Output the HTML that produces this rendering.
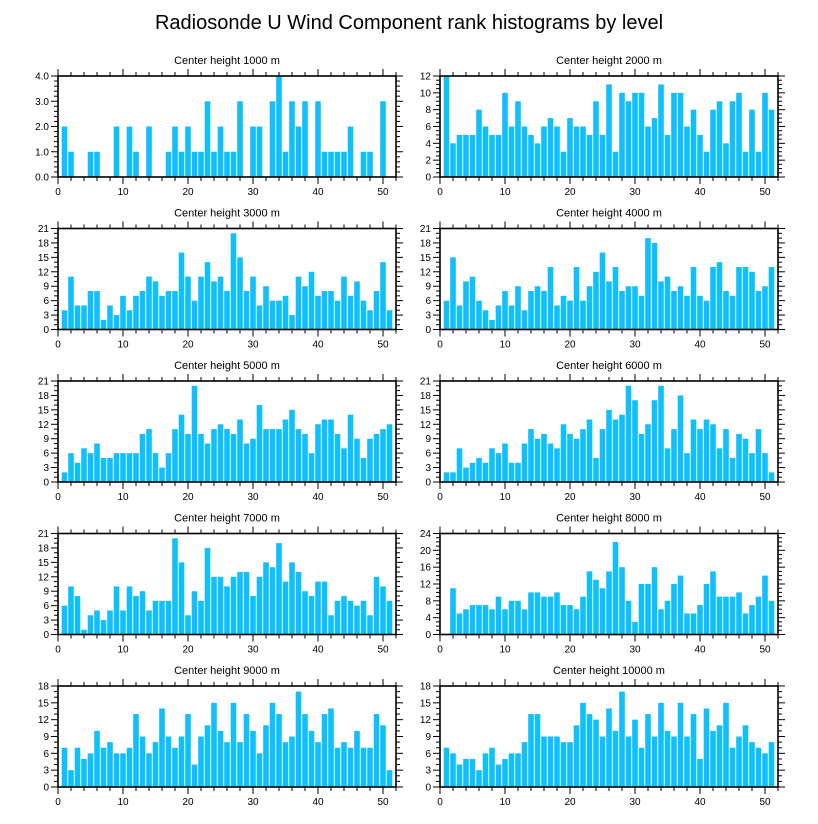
<!DOCTYPE html>
<html><head><meta charset="utf-8">
<style>
html,body{margin:0;padding:0;background:#fff;}
svg{display:block;font-family:"Liberation Sans",Arial,sans-serif;}
</style></head>
<body>
<svg id="chart" width="818" height="824" viewBox="0 0 818 824" xmlns="http://www.w3.org/2000/svg">
<rect width="818" height="824" fill="#fff"/>
<text x="409" y="29" font-size="20" text-anchor="middle" fill="#000">Radiosonde U Wind Component rank histograms by level</text>
</svg>
<script>
// Panel titles
const panelTitles = ["Center height 1000 m","Center height 2000 m","Center height 3000 m","Center height 4000 m","Center height 5000 m","Center height 6000 m","Center height 7000 m","Center height 8000 m","Center height 9000 m","Center height 10000 m"];
// Ranks (x categories) 1..51
const ranks = [1,2,3,4,5,6,7,8,9,10,11,12,13,14,15,16,17,18,19,20,21,22,23,24,25,26,27,28,29,30,31,32,33,34,35,36,37,38,39,40,41,42,43,44,45,46,47,48,49,50,51];
const xTickLabels = [0,10,20,30,40,50];
// Series values per level
const h1000 = [2,1,0,0,1,1,0,0,2,0,2,1,0,2,0,0,1,2,1,2,1,1,3,1,2,1,1,3,0,2,2,0,3,4,1,3,2,3,0,3,1,1,1,1,2,0,1,1,0,3,0];
const h2000 = [12,4,5,5,5,8,6,5,5,10,6,9,6,5,4,6,7,6,3,7,6,6,5,9,5,11,3,10,9,10,10,6,7,11,5,10,10,6,8,5,3,8,9,4,9,10,3,8,3,10,8];
const h3000 = [4,11,5,5,8,8,2,5,3,7,4,7,8,11,10,7,8,8,16,11,6,11,14,10,11,8,20,15,8,11,5,9,6,6,7,3,11,9,12,7,8,8,6,11,7,10,6,4,8,14,4];
const h4000 = [6,15,5,10,11,6,4,2,5,8,5,9,4,8,9,8,13,5,7,6,13,6,9,12,16,10,13,8,9,9,7,19,18,10,11,8,9,7,13,7,6,13,14,8,7,13,13,12,8,9,13];
const h5000 = [2,6,4,7,6,8,5,5,6,6,6,6,10,11,6,3,6,11,14,10,20,10,8,11,12,11,10,13,8,9,16,11,11,11,13,15,11,10,6,12,13,13,10,7,14,9,5,9,10,11,12];
const h6000 = [2,2,7,3,4,5,4,7,6,8,4,4,8,11,9,10,8,7,12,10,9,11,13,5,11,15,13,14,20,17,10,12,17,20,7,11,18,6,13,11,13,12,7,11,5,10,9,6,11,6,2];
const h7000 = [6,10,8,1,4,5,3,5,10,5,10,8,9,5,7,7,7,20,15,4,9,7,18,12,12,10,12,13,13,8,12,15,14,19,11,15,13,9,8,11,11,4,7,8,7,6,7,4,12,10,7];
const h8000 = [0,11,5,6,7,7,7,6,9,6,8,8,6,10,10,9,9,10,7,7,6,9,15,13,11,15,22,16,8,3,12,12,16,6,8,12,14,5,5,7,12,15,9,9,9,10,5,7,9,14,8];
const h9000 = [7,3,7,5,6,10,7,8,6,6,7,13,9,6,8,14,9,7,9,13,4,9,11,15,10,8,15,8,13,10,6,11,15,13,8,9,17,13,10,8,13,14,7,8,7,10,7,7,13,11,3];
const h10000 = [7,6,4,5,5,3,6,7,4,5,6,6,8,13,13,9,9,9,8,8,11,15,13,12,9,14,10,17,9,12,7,13,9,15,10,9,15,9,13,5,14,10,11,15,7,9,11,8,7,6,8];
// Y axis ranges / ticks
const yMax = [4,12,21,21,21,21,21,24,18,18];
const yMajor = [1,2,3,3,3,3,3,4,3,3];
const yMinor = [0.2,0.5,1,1,1,1,1,1,1,1];
const yDecimals = [1,0,0,0,0,0,0,0,0,0];

const series = [h1000,h2000,h3000,h4000,h5000,h6000,h7000,h8000,h9000,h10000];
const NS = "http://www.w3.org/2000/svg";
const svg = document.getElementById("chart");
const colLeft = [58, 440];
const rowTop = [76, 228.5, 381, 533.5, 686];
const PW = 338, PH = 101, XMAX = 52;

function mk(tag, attrs, parent){
  const e = document.createElementNS(NS, tag);
  for (const k in attrs) e.setAttribute(k, attrs[k]);
  (parent||svg).appendChild(e);
  return e;
}

series.forEach((vals, p) => {
  const x0 = colLeft[p % 2], y0 = rowTop[Math.floor(p / 2)];
  const xs = v => x0 + v / XMAX * PW;
  const ys = v => y0 + PH - v / yMax[p] * PH;
  const g = mk("g", {});
  
  

  const t = mk("text", {x: x0 + PW/2, y: y0 - 12, "font-size": 11, "text-anchor": "middle", fill: "#000"}, g);
  t.textContent = panelTitles[p];
  
  

  const bw = PW / XMAX * 0.86;
  vals.forEach((v, i) => {
    if (v <= 0) return;
    const r = mk("rect", {x: xs(ranks[i]) - bw/2, y: ys(v), width: bw, height: ys(0) - ys(v), fill: "#10c0fc"}, g);
    
    
  });

  // x ticks (minor every 2, major every 10) top & bottom, outward
  const ticks = mk("g", {stroke: "#000", "stroke-width": 1}, g);
  
  
  for (let v = 0; v <= XMAX; v += 2) {
    const len = v % 10 === 0 ? 7 : 4;
    const X = xs(v);
    mk("line", {x1: X, x2: X, y1: y0 + PH, y2: y0 + PH + len}, ticks);
    mk("line", {x1: X, x2: X, y1: y0, y2: y0 - len}, ticks);
  }
  // y ticks
  const nMinor = Math.round(yMax[p] / yMinor[p]);
  const ratio = Math.round(yMajor[p] / yMinor[p]);
  for (let k = 0; k <= nMinor; k++) {
    const v = k * yMinor[p];
    const len = k % ratio === 0 ? 7 : 4;
    const Y = ys(v);
    mk("line", {x1: x0, x2: x0 - len, y1: Y, y2: Y}, ticks);
    mk("line", {x1: x0 + PW, x2: x0 + PW + len, y1: Y, y2: Y}, ticks);
  }
  // x labels
  xTickLabels.forEach(v => {
    const l = mk("text", {x: xs(v), y: y0 + PH + 18, "font-size": 10, "text-anchor": "middle", fill: "#000"}, g);
    l.textContent = v;
    
    
  });
  // y labels
  for (let v = 0; v <= yMax[p] + 1e-9; v += yMajor[p]) {
    const l = mk("text", {x: x0 - 9, y: ys(v) + 3.5, "font-size": 10, "text-anchor": "end", fill: "#000"}, g);
    l.textContent = v.toFixed(yDecimals[p]);
    
    
  }
  const b = mk("rect", {x: x0, y: y0, width: PW, height: PH, fill: "none", stroke: "#000", "stroke-width": 1.6}, g);
  
  
});
</script>
</body></html>
